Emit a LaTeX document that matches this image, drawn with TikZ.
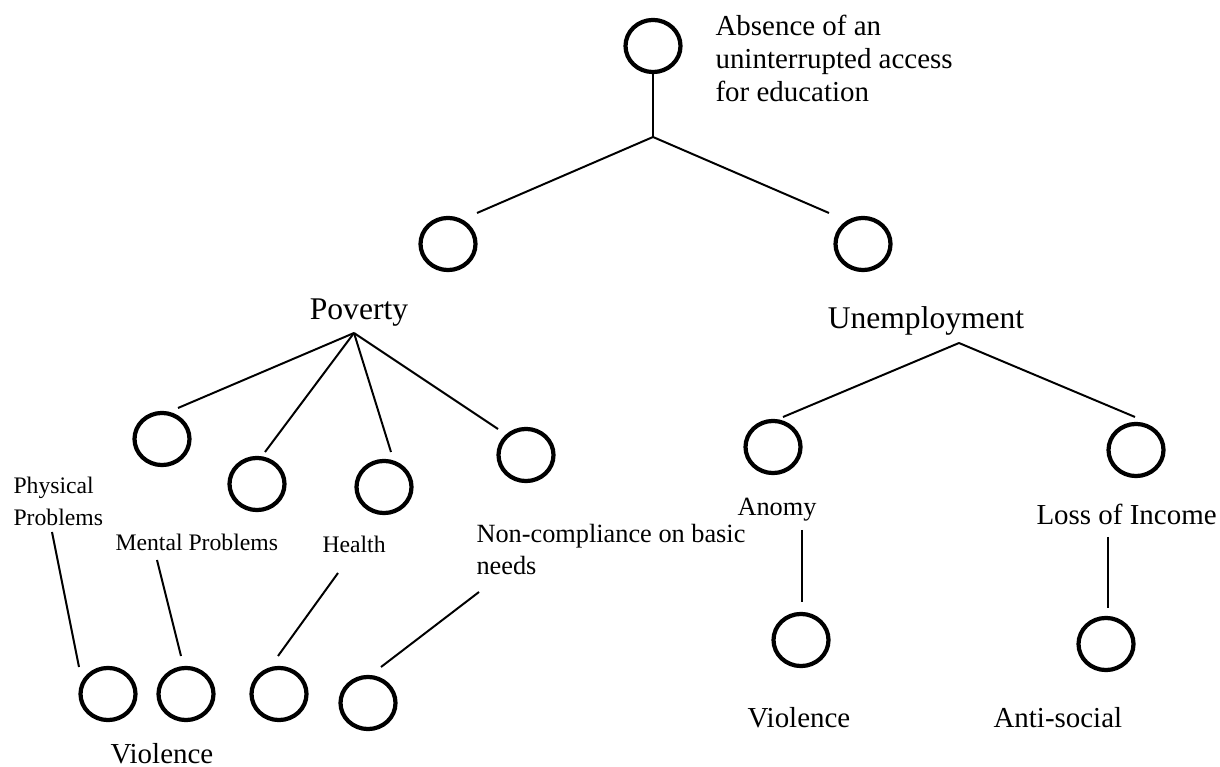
\documentclass[tikz,border=0pt]{standalone}
\usepackage{fontspec}
\setmainfont{Liberation Serif}
\usetikzlibrary{shapes.geometric}

\tikzset{
  bubble/.style={draw, ellipse, line width=1.6pt, inner sep=0pt,
    minimum width=20.9pt, minimum height=19.8pt},
  link/.style={line width=0.75pt},
  lblnine/.style={inner sep=0pt, align=left, font=\fontsize{9}{12.5}\selectfont},
  lblten/.style={inner sep=0pt, align=left, font=\fontsize{10}{12.2}\selectfont},
  lbleleven/.style={inner sep=0pt, align=left, font=\fontsize{11}{12.7}\selectfont},
  lbltwelve/.style={inner sep=0pt, align=left, font=\fontsize{12}{13.8}\selectfont}
}

\begin{document}
\begin{tikzpicture}[x=0.38pt,y=0.38pt,yscale=-1,xscale=1]
\useasboundingbox (0,0) rectangle (1220,767);

%Shape: Circles
\node [bubble] (top) at (653,46) {};
\node [bubble] (pov) at (448,244) {};
\node [bubble] (unemp) at (863,244) {};
\node [bubble] (pov1) at (162,439) {};
\node [bubble] (pov2) at (257,484) {};
\node [bubble] (pov3) at (384,487) {};
\node [bubble] (pov4) at (526,455) {};
\node [bubble] (vio1) at (108,694) {};
\node [bubble] (vio2) at (186,694) {};
\node [bubble] (vio3) at (279,694) {};
\node [bubble] (vio4) at (368,703) {};
\node [bubble] (anomy) at (773,447) {};
\node [bubble] (loss) at (1136,450) {};
\node [bubble] (anvio) at (801,640) {};
\node [bubble] (antis) at (1106,644) {};

%Junctions and line ends
\coordinate (jtop) at (653,137);
\coordinate (povin) at (477,213);
\coordinate (unempin) at (829,213);
\coordinate (jpov) at (354,333);
\coordinate (pov1in) at (178,408);
\coordinate (pov2in) at (265,452);
\coordinate (pov3in) at (391,452);
\coordinate (pov4in) at (498,429);
\coordinate (junemp) at (959,343);
\coordinate (anomyin) at (783,417);
\coordinate (lossin) at (1135,417);
\coordinate (physout) at (52,532);
\coordinate (vio1in) at (79,667);
\coordinate (mentout) at (157,560);
\coordinate (vio2in) at (181,656);
\coordinate (healthout) at (338,573);
\coordinate (vio3in) at (278,656);
\coordinate (needsout) at (479,592);
\coordinate (vio4in) at (381,667);
\coordinate (anomyout) at (802,530);
\coordinate (anvioin) at (802,602);
\coordinate (lossout) at (1108,537);
\coordinate (antisin) at (1108,608);

%Straight Lines
\draw [link] (top.south) -- (jtop);
\draw [link] (jtop) -- (povin);
\draw [link] (jtop) -- (unempin);
\draw [link] (jpov) -- (pov1in);
\draw [link] (jpov) -- (pov2in);
\draw [link] (jpov) -- (pov3in);
\draw [link] (jpov) -- (pov4in);
\draw [link] (junemp) -- (anomyin);
\draw [link] (junemp) -- (lossin);
\draw [link] (physout) -- (vio1in);
\draw [link] (mentout) -- (vio2in);
\draw [link] (healthout) -- (vio3in);
\draw [link] (needsout) -- (vio4in);
\draw [link] (anomyout) -- (anvioin);
\draw [link] (lossout) -- (antisin);

% Text Node
\node [lbleleven, anchor=base west] (absence) at (715,102) {Absence of an\\uninterrupted access\\for education};
% Text Node
\node [lbltwelve, anchor=base] (povtxt) at (359,320) {Poverty};
% Text Node
\node [lbltwelve, anchor=base] (unemptxt) at (926,329) {Unemployment};
% Text Node
\node [lblnine, anchor=base west] (phys) at (13,526) {Physical\\Problems};
% Text Node
\node [lblnine, anchor=base west] (mental) at (115,551) {Mental Problems};
% Text Node
\node [lblnine, anchor=base west] (health) at (322,553) {Health};
% Text Node
\node [lblten, anchor=base west] (needs) at (476,575) {Non-compliance on basic\\needs};
% Text Node
\node [lblten, anchor=base west] (anomytxt) at (737,516) {Anomy};
% Text Node
\node [lbleleven, anchor=base west] (losstxt) at (1036,525) {Loss of Income};
% Text Node
\node [lbleleven, anchor=base west] (viotxt) at (110,763) {Violence};
% Text Node
\node [lbleleven, anchor=base west] (anviotxt) at (747,727) {Violence};
% Text Node
\node [lbleleven, anchor=base west] (antistxt) at (993,727) {Anti-social};

\end{tikzpicture}
\end{document}
